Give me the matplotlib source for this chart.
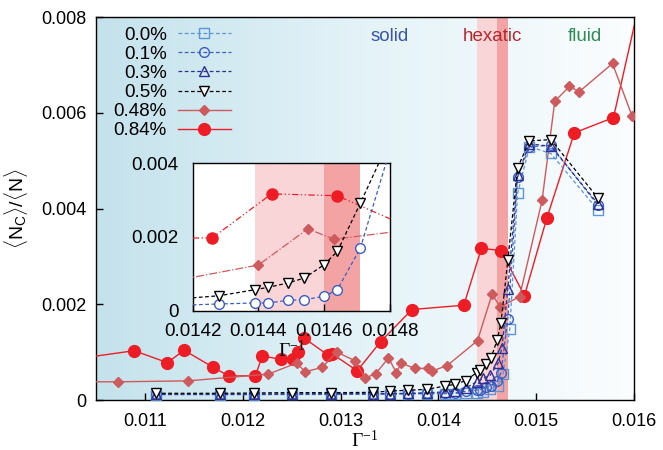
import numpy as np
import matplotlib
matplotlib.use('Agg')
import matplotlib.pyplot as plt
from matplotlib.colors import LinearSegmentedColormap

plt.rcParams['font.family'] = ['Liberation Sans', 'DejaVu Sans']
plt.rcParams['mathtext.fontset'] = 'custom'
plt.rcParams['mathtext.rm'] = 'Liberation Serif'
plt.rcParams['mathtext.it'] = 'Liberation Serif:italic'
plt.rcParams['mathtext.sf'] = 'Liberation Sans'

# defect fraction <N_C>/<N> vs inverse coupling, one series per impurity concentration
x_low = [0.01111, 0.01177, 0.01212, 0.01250, 0.01290, 0.01333, 0.01351,
         0.01369, 0.01388, 0.01407, 0.01417, 0.01428]

x_00 = x_low + [0.01439, 0.01446, 0.01453, 0.01461, 0.01466, 0.01473,
                0.01481, 0.01493, 0.01515, 0.01563]
y_00 = [0.00011, 0.00011, 0.00011, 0.000115, 0.000115, 0.00012, 0.00012,
        0.000125, 0.00013, 0.00013, 0.000135, 0.00014,
        0.00014, 0.00016, 0.00022, 0.00030, 0.00054, 0.00148,
        0.00432, 0.00529, 0.00515, 0.00397]

x_01 = x_low[:-1] + [0.01428, 0.01439, 0.01443, 0.01449, 0.01454, 0.01460,
                     0.01464, 0.01471, 0.01481, 0.01493, 0.01515, 0.01563]
y_01 = [0.00012, 0.00012, 0.00012, 0.000125, 0.000125, 0.00013, 0.00013,
        0.000135, 0.00014, 0.000145, 0.00015,
        0.000182, 0.000209, 0.000209, 0.000282, 0.000299, 0.000391,
        0.00057, 0.00170, 0.00466, 0.00529, 0.00532, 0.00407]

x_03 = x_low + [0.01439, 0.01446, 0.01453, 0.01461, 0.01465, 0.01471,
                0.01481, 0.01493, 0.01515, 0.01563]
y_03 = [0.00012, 0.00012, 0.00012, 0.000125, 0.00013, 0.00013, 0.000135,
        0.00014, 0.00015, 0.00017, 0.00019, 0.00025,
        0.00038, 0.00045, 0.00052, 0.00077, 0.00109, 0.00232,
        0.00470, 0.00535, 0.00530, 0.00410]

x_05 = x_low + [0.01439, 0.01443, 0.01449, 0.01454, 0.01460, 0.01464,
                0.01471, 0.01481, 0.01493, 0.01515, 0.01563]
y_05 = [0.00014, 0.00014, 0.000146, 0.000155, 0.000152, 0.00016, 0.000188,
        0.000203, 0.000223, 0.000292, 0.000328, 0.000405,
        0.00057, 0.000635, 0.000752, 0.000887, 0.00125, 0.00161,
        0.00292, 0.00485, 0.00541, 0.00544, 0.00422]

x_048 = [0.01030, 0.01072, 0.01144, 0.01226, 0.01255, 0.01264, 0.01281,
         0.01296, 0.01315, 0.01325, 0.01336, 0.01349, 0.01357, 0.01362,
         0.01376, 0.01389, 0.01393, 0.01409, 0.01440, 0.01455, 0.01463,
         0.01483, 0.01506, 0.01519, 0.01534, 0.01544, 0.01578, 0.01598]
y_048 = [0.00038, 0.00038, 0.00040, 0.00054, 0.00077, 0.00059, 0.00068,
         0.00100, 0.00082, 0.00046, 0.00055, 0.00088, 0.00057, 0.00077,
         0.00066, 0.00066, 0.00060, 0.00072, 0.00124, 0.00222, 0.00194,
         0.00216, 0.00417, 0.00624, 0.00655, 0.00644, 0.00703, 0.00593]

x_084 = [0.01030, 0.01089, 0.01123, 0.01140, 0.01170, 0.01186, 0.01213,
         0.01220, 0.01239, 0.01251, 0.01256, 0.01263, 0.01287, 0.01291,
         0.01317, 0.01341, 0.01373, 0.01426, 0.01444, 0.01464, 0.01488,
         0.01511, 0.01539, 0.01579, 0.01610]
y_084 = [0.00086, 0.00103, 0.00078, 0.00104, 0.00068, 0.00050, 0.00051,
         0.00092, 0.00085, 0.00086, 0.00101, 0.00129, 0.00094, 0.00097,
         0.00061, 0.00122, 0.00189, 0.00198, 0.00317, 0.00312, 0.00218,
         0.00381, 0.00558, 0.00590, 0.00870]

hexatic_light = (0.01439, 0.01460)
hexatic_dark = (0.01460, 0.01471)

xticks = [0.011, 0.012, 0.013, 0.014, 0.015, 0.016]
xtick_labels = ['0.011', '0.012', '0.013', '0.014', '0.015', '0.016']
yticks = [0, 0.002, 0.004, 0.006, 0.008]
ytick_labels = ['0', '0.002', '0.004', '0.006', '0.008']
inset_xticks = [0.0142, 0.0144, 0.0146, 0.0148]
inset_xtick_labels = ['0.0142', '0.0144', '0.0146', '0.0148']
inset_yticks = [0, 0.002, 0.004]
inset_ytick_labels = ['0', '0.002', '0.004']

c00, c01, c03, c05 = '#5b95d6', '#3d5cc0', '#2e3192', 'black'
c048, c084 = '#cd5a5c', '#ee1c25'

fig = plt.figure(figsize=(6.63, 4.5), dpi=100)
ax = fig.add_axes([0.1448, 0.1111, 0.8115, 0.8511])

# blue-to-white background across the whole panel
cmap = LinearSegmentedColormap.from_list('bg', ['#c4e2ec', '#e4f3f8', '#fbfdfe'])
grad = np.linspace(0, 1, 256).reshape(1, -1)
ax.imshow(grad, extent=[0, 1, 0, 1], transform=ax.transAxes, aspect='auto',
          cmap=cmap, zorder=0)
ax.axvspan(*hexatic_light, color='#f9d5d8', lw=0, zorder=1)
ax.axvspan(*hexatic_dark, color='#f4a3a5', lw=0, zorder=1)

ax.plot(x_084, y_084, '-', color=c084, lw=1.0, marker='o', ms=8.5,
        mec=c084, mfc=c084, label='0.84%', zorder=3)
ax.plot(x_048, y_048, '-', color=c048, lw=1.0, marker='D', ms=5.5,
        mec=c048, mfc=c048, label='0.48%', zorder=3)
ax.plot(x_00, y_00, '--', color=c00, lw=0.9, dashes=(3, 2), marker='s', ms=6.5,
        mfc='none', mec=c00, mew=1.0, label='0.0%', zorder=4)
ax.plot(x_01, y_01, '--', color=c01, lw=0.9, dashes=(3, 2), marker='o', ms=7,
        mfc='none', mec=c01, mew=1.0, label='0.1%', zorder=4)
ax.plot(x_03, y_03, '--', color=c03, lw=0.9, dashes=(3, 2), marker='^', ms=6.5,
        mfc='none', mec=c03, mew=1.0, label='0.3%', zorder=4)
ax.plot(x_05, y_05, '--', color=c05, lw=0.9, dashes=(3, 2), marker='v', ms=6.5,
        mfc='white', mec=c05, mew=1.0, label='0.5%', zorder=5)

ax.set_xlim(0.0105, 0.016)
ax.set_ylim(0, 0.008)
ax.set_xticks(xticks)
ax.set_xticklabels(xtick_labels)
ax.set_yticks(yticks)
ax.set_yticklabels(ytick_labels)
ax.tick_params(direction='in', length=5, width=1, labelsize=13, pad=7)
ax.tick_params(axis='x', pad=9)
for sp in ax.spines.values():
    sp.set_linewidth(1.0)

ax.set_xlabel(r'$\Gamma^{-1}$', fontsize=14, labelpad=0)
ax.set_ylabel(r'$\mathsf{\langle N_C\rangle/\langle N\rangle}$', fontsize=14, labelpad=8)

ax.text(0.0135, 0.0076, 'solid', color='#3a55a8', fontsize=13.5, ha='center', va='center', zorder=6)
ax.text(0.01455, 0.0076, 'hexatic', color='#b5272d', fontsize=13.5, ha='center', va='center', zorder=6)
ax.text(0.0155, 0.0076, 'fluid', color='#2e8b57', fontsize=13.5, ha='center', va='center', zorder=6)

handles, labels = ax.get_legend_handles_labels()
order = [2, 3, 4, 5, 1, 0]
ax.legend([handles[i] for i in order], [labels[i] for i in order],
          loc='upper left', bbox_to_anchor=(0.019, 0.995), frameon=False,
          markerfirst=False, fontsize=13.5, handlelength=2.8,
          handletextpad=0.6, labelspacing=0.11, borderaxespad=0)

# zoom on the hexatic window
axi = fig.add_axes([0.2906, 0.3096, 0.2976, 0.3275], zorder=10)
axi.set_facecolor('white')
axi.axvspan(*hexatic_light, color='#f9d5d8', lw=0, zorder=1)
axi.axvspan(*hexatic_dark, color='#f4a3a5', lw=0, zorder=1)
axi.plot(x_084, y_084, color=c084, lw=0.9, ls=(0, (5, 2, 1, 2, 1, 2)), marker='o',
         ms=8, mec=c084, mfc=c084, zorder=3)
axi.plot(x_048, y_048, color=c048, lw=0.9, ls='-.', marker='D', ms=5.5,
         mec=c048, mfc=c048, zorder=3)
axi.plot(x_01, y_01, color=c01, lw=0.9, dashes=(3, 2), marker='o', ms=7,
         mfc='white', mec=c01, mew=1.0, zorder=4)
axi.plot(x_05, y_05, color=c05, lw=0.9, dashes=(3, 2), marker='v', ms=6.5,
         mfc='white', mec=c05, mew=1.0, zorder=5)
axi.set_xlim(0.0142, 0.0148)
axi.set_ylim(0, 0.004)
axi.set_xticks(inset_xticks)
axi.set_xticklabels(inset_xtick_labels)
axi.set_yticks(inset_yticks)
axi.set_yticklabels(inset_ytick_labels)
axi.tick_params(direction='in', length=5, width=1, labelsize=13.5, pad=9)
axi.tick_params(axis='y', length=0, pad=10)
for sp in axi.spines.values():
    sp.set_linewidth(1.0)
axi.set_xlabel(r'$\Gamma^{-1}$', fontsize=14, labelpad=0)

fig.savefig('out.png', dpi=100)
